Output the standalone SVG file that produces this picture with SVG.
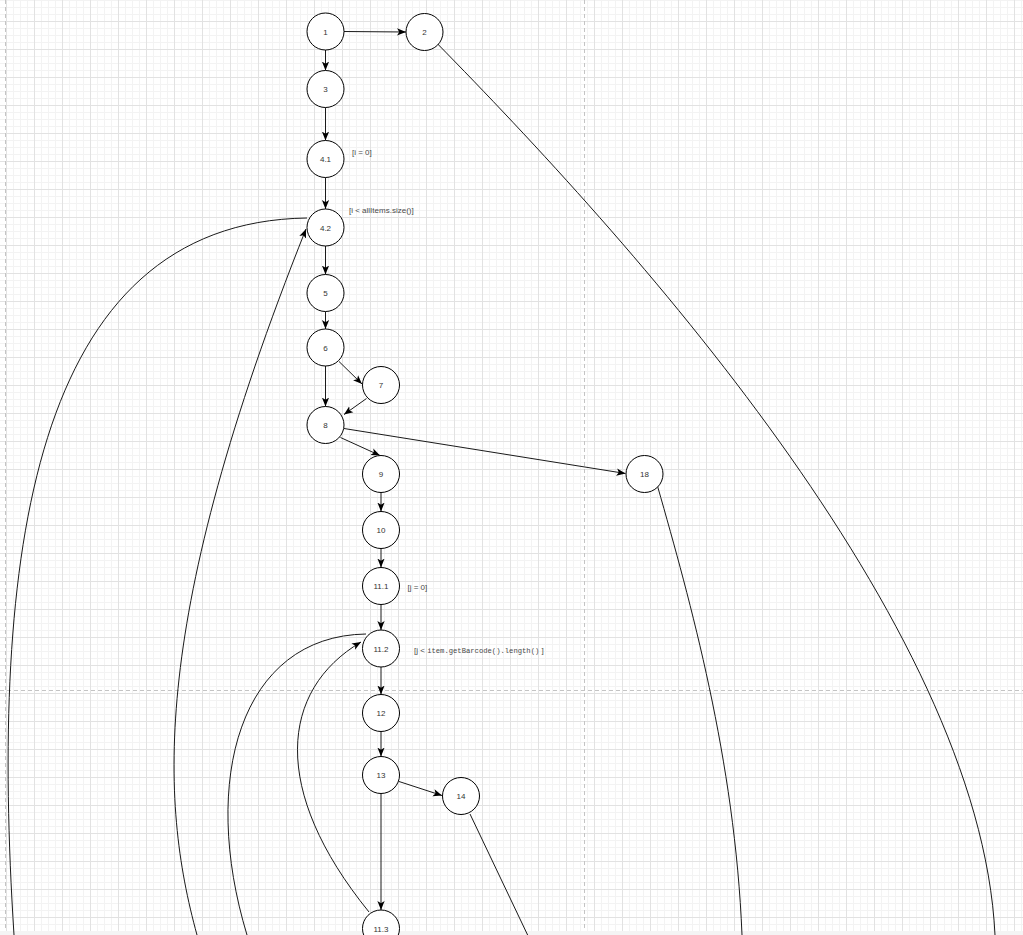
<svg xmlns="http://www.w3.org/2000/svg" width="1023" height="935" viewBox="0 0 1023 935">
  <style>
    .node circle { fill: #ffffff; stroke: #000000; stroke-width: 1; }
    .node text { font-family: "Liberation Sans", Arial, sans-serif; font-size: 8px; fill: #333333; text-anchor: middle; }
    .lbl { font-family: "Liberation Sans", Arial, sans-serif; font-size: 8px; fill: #4a4a4a; }
    .mono { font-family: "Liberation Mono", "DejaVu Sans Mono", monospace; font-size: 7.2px; }
    .edge { fill: none; stroke: #1a1a1a; stroke-width: 1; }
    .arr { marker-end: url(#arrow); }
    .pagebreak { stroke: #c4c4c4; stroke-width: 1; stroke-dasharray: 4 3; fill: none; }
  </style>
  <defs>
    <pattern id="grid" patternUnits="userSpaceOnUse" x="6" y="21" width="28" height="28">
      <rect width="28" height="28" fill="#ffffff"/>
      <path d="M7.5,0V28M14.5,0V28M21.5,0V28M0,7.5H28M0,14.5H28M0,21.5H28" stroke="#f3f3f3" stroke-width="1" fill="none"/>
      <path d="M0.5,0V28M0,0.5H28" stroke="#e2e2e2" stroke-width="1" fill="none"/>
    </pattern>
    <marker id="arrow" markerUnits="userSpaceOnUse" viewBox="0 0 10 10" refX="10" refY="5" markerWidth="9" markerHeight="9" orient="auto">
      <path d="M0,1 L10,5 L0,9 L2.5,5 z" fill="#000000"/>
    </marker>
  </defs>

  <rect x="0" y="0" width="1023" height="935" fill="url(#grid)"/>
  <rect x="0" y="931" width="1023" height="4" fill="#f4f4f4"/>
  <path class="pagebreak" d="M5.5,0V931M584.5,0V931M0,690.5H1023"/>

  <g id="connectors">
    <path class="edge arr" d="M344,31.5 L406,32"/>
    <path class="edge arr" d="M325.5,50 L325.5,70.5"/>
    <path class="edge arr" d="M325.5,107.5 L325.5,140.5"/>
    <path class="edge arr" d="M325.5,177.5 L325.5,209"/>
    <path class="edge arr" d="M325.5,246 L325.5,274.5"/>
    <path class="edge arr" d="M325.5,311.5 L325.5,329"/>
    <path class="edge arr" d="M339,361.5 L362,384"/>
    <path class="edge arr" d="M325.5,366 L325.5,406.5"/>
    <path class="edge arr" d="M366.5,398.5 L344,414.5"/>
    <path class="edge arr" d="M340.5,437.5 L380,455.5"/>
    <path class="edge arr" d="M344,428.5 L625.5,473.5"/>
    <path class="edge arr" d="M381,492.5 L381,511.5"/>
    <path class="edge arr" d="M381,548.5 L381,567.5"/>
    <path class="edge arr" d="M381,604.5 L381,630"/>
    <path class="edge arr" d="M381,667 L381,694.5"/>
    <path class="edge arr" d="M381,731.5 L381,756.5"/>
    <path class="edge arr" d="M399,781.5 L442,795.5"/>
    <path class="edge arr" d="M381,793.5 L381,910"/>
    <!-- loops back with arrows -->
    <path class="edge arr" d="M197,935 C160,800 150,620 306,229"/>
    <path class="edge arr" d="M369,912 C270,790 280,690 361,642"/>
    <!-- exits without visible arrowheads -->
    <path class="edge" d="M307,218 C30,222 -10,560 14,935"/>
    <path class="edge" d="M366,634 C240,636 200,780 247,935"/>
    <path class="edge" d="M437.7,44 C620,230 980,620 995,935"/>
    <path class="edge" d="M657.7,486.7 C690,600 735,760 742,935"/>
    <path class="edge" d="M470,814 L530,940"/>
  </g>

  <g id="node-1" class="node"><circle cx="325.5" cy="31.5" r="18.5"/><text x="325.5" y="34.5">1</text></g>
  <g id="node-2" class="node"><circle cx="424.5" cy="32" r="18.5"/><text x="424.5" y="35">2</text></g>
  <g id="node-3" class="node"><circle cx="325.5" cy="89" r="18.5"/><text x="325.5" y="92">3</text></g>
  <g id="node-4-1" class="node"><circle cx="325.5" cy="159" r="18.5"/><text x="325.5" y="162">4.1</text></g>
  <g id="node-4-2" class="node"><circle cx="325.5" cy="227.5" r="18.5"/><text x="325.5" y="230.5">4.2</text></g>
  <g id="node-5" class="node"><circle cx="325.5" cy="293" r="18.5"/><text x="325.5" y="296">5</text></g>
  <g id="node-6" class="node"><circle cx="325.5" cy="347.5" r="18.5"/><text x="325.5" y="350.5">6</text></g>
  <g id="node-7" class="node"><circle cx="381" cy="385" r="18.5"/><text x="381" y="388">7</text></g>
  <g id="node-8" class="node"><circle cx="325.5" cy="425" r="18.5"/><text x="325.5" y="428">8</text></g>
  <g id="node-9" class="node"><circle cx="381" cy="474" r="18.5"/><text x="381" y="477">9</text></g>
  <g id="node-10" class="node"><circle cx="381" cy="530" r="18.5"/><text x="381" y="533">10</text></g>
  <g id="node-11-1" class="node"><circle cx="381" cy="586" r="18.5"/><text x="381" y="589">11.1</text></g>
  <g id="node-11-2" class="node"><circle cx="381" cy="648.5" r="18.5"/><text x="381" y="651.5">11.2</text></g>
  <g id="node-12" class="node"><circle cx="381" cy="713" r="18.5"/><text x="381" y="716">12</text></g>
  <g id="node-13" class="node"><circle cx="381" cy="775" r="18.5"/><text x="381" y="778">13</text></g>
  <g id="node-14" class="node"><circle cx="461" cy="796" r="18.5"/><text x="461" y="799">14</text></g>
  <g id="node-11-3" class="node"><circle cx="381" cy="928.5" r="18.5"/><text x="381" y="931.5">11.3</text></g>
  <g id="node-18" class="node"><circle cx="644.5" cy="474" r="18.5"/><text x="644.5" y="477">18</text></g>

  <g id="labels">
    <text class="lbl" x="352" y="155">[i = 0]</text>
    <text class="lbl" x="349" y="212.5">[i &lt; allItems.size()]</text>
    <text class="lbl" x="407.5" y="589.5">[j = 0]</text>
    <text class="lbl" x="414" y="652.5">[j &lt; <tspan class="mono">item.getBarcode().length()</tspan> ]</text>
  </g>
</svg>
